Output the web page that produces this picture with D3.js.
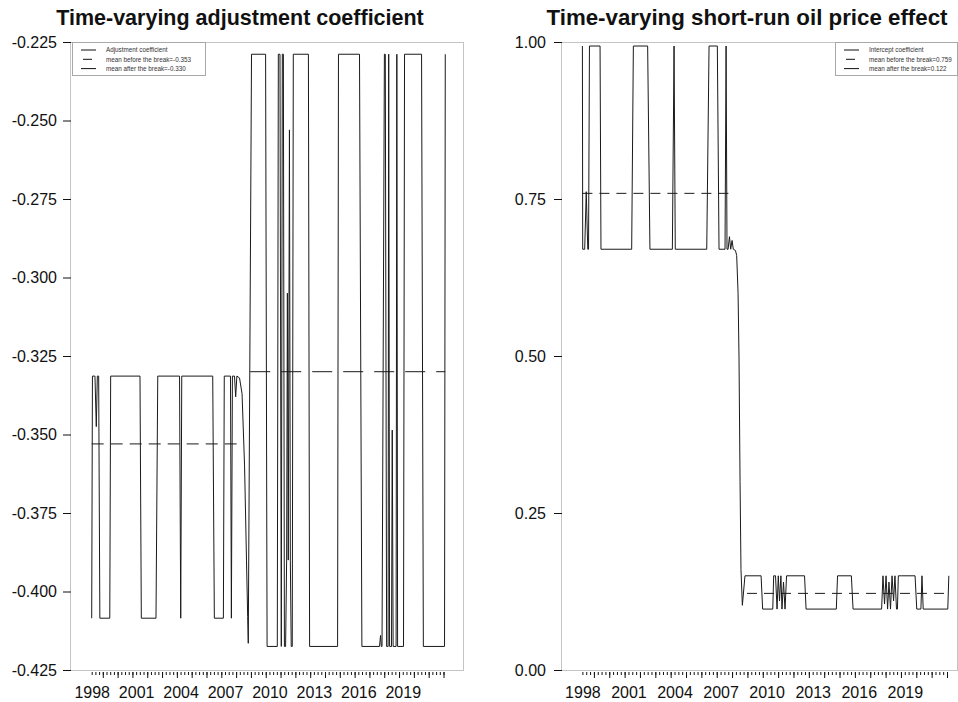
<!DOCTYPE html>
<html lang="en">
<head>
<meta charset="UTF-8">
<title>Time-varying coefficients</title>
<script src="https://cdnjs.cloudflare.com/ajax/libs/d3/7.8.5/d3.min.js"></script>
<style>
  body { margin: 0; background: #fff; }
  svg text { font-family: "Liberation Sans", Arial, Helvetica, sans-serif; fill: #111; }
</style>
</head>
<body>
<svg id="chart" width="958" height="702"></svg>
<script>

// x axis labels (every three years) and y tick values
var yearLabels = [1998, 2001, 2004, 2007, 2010, 2013, 2016, 2019];
var adjTicks = [-0.425, -0.400, -0.375, -0.350, -0.325, -0.300, -0.275, -0.250, -0.225];
var oilTicks = [0.00, 0.25, 0.50, 0.75, 1.00];

// adjustment coefficient (decimal year, value)
var adjTime = [1998.00, 1998.05, 1998.22, 1998.31, 1998.38, 1998.47, 1998.55, 1999.22, 1999.28,
  2001.26, 2001.35, 2002.34, 2002.46, 2003.93, 2004.01, 2004.08, 2006.17, 2006.28, 2006.89, 2006.95,
  2007.37, 2007.43, 2007.50, 2007.64, 2007.72, 2007.80, 2007.98, 2008.15, 2008.32, 2008.45, 2008.53, 2008.57,
  2008.79, 2009.74, 2009.84, 2010.53, 2010.60, 2010.71, 2010.80, 2010.87, 2010.94, 2011.01, 2011.09,
  2011.16, 2011.21, 2011.27, 2011.35, 2011.41, 2011.47, 2011.54, 2011.61, 2012.63, 2012.71, 2014.60,
  2014.66, 2016.08, 2016.24, 2017.43, 2017.50, 2017.55, 2017.60, 2017.76, 2017.82, 2017.91, 2018.01,
  2018.05, 2018.11, 2018.24, 2018.29, 2018.35, 2018.55, 2018.60, 2018.65, 2019.05, 2019.12, 2020.27,
  2020.39, 2021.82, 2021.87];
var adjValue = [-0.4085, -0.3314, -0.3314, -0.3475, -0.3314, -0.3314, -0.4085, -0.4085, -0.3314,
  -0.3314, -0.4085, -0.4085, -0.3314, -0.3314, -0.4085, -0.3314, -0.3314, -0.4085, -0.4085, -0.3314,
  -0.3314, -0.4085, -0.3314, -0.3314, -0.3380, -0.3314, -0.3320, -0.3370, -0.3600, -0.3900, -0.4080, -0.4165,
  -0.2289, -0.2289, -0.4175, -0.4175, -0.2289, -0.2289, -0.4175, -0.2289, -0.2289, -0.4175, -0.4175,
  -0.3900, -0.3050, -0.3900, -0.2530, -0.3900, -0.4175, -0.4175, -0.2289, -0.2289, -0.4175, -0.4175,
  -0.2289, -0.2289, -0.4175, -0.4175, -0.4140, -0.4175, -0.4175, -0.2289, -0.2289, -0.4175, -0.4175,
  -0.2289, -0.4175, -0.4175, -0.3486, -0.4175, -0.4175, -0.2289, -0.4175, -0.4175, -0.2289, -0.2289,
  -0.4175, -0.4175, -0.2289];
var adjMeans = [-0.353, -0.330];
var adjMeanSpans = [[1998.00, 2008.03], [2008.70, 2021.87]];

// short-run oil price effect (intercept coefficient)
var oilTime = [1998.00, 1998.02, 1998.15, 1998.25, 1998.35, 1998.40, 1998.46, 1999.15, 1999.21,
  2001.21, 2001.32, 2002.25, 2002.40, 2003.86, 2003.97, 2004.05, 2006.10, 2006.25, 2006.79, 2006.90,
  2007.29, 2007.36, 2007.42, 2007.49, 2007.58, 2007.66, 2007.75, 2007.83, 2007.97, 2008.05, 2008.14,
  2008.20, 2008.27, 2008.33, 2008.42,
  2008.59, 2009.64, 2009.74, 2010.40, 2010.46, 2010.58, 2010.68, 2010.76, 2010.84, 2010.93, 2011.00,
  2011.10, 2011.20, 2011.30, 2012.47, 2012.57, 2014.54, 2014.62, 2015.52, 2015.63, 2017.49, 2017.58,
  2017.68, 2017.78, 2017.88, 2017.97, 2018.07, 2018.17, 2018.27, 2018.36, 2018.46, 2018.52, 2018.58,
  2018.80, 2019.67, 2019.78, 2020.05, 2020.12, 2020.20, 2021.80, 2021.87];
var oilValue = [0.9936, 0.670, 0.670, 0.7616, 0.670, 0.670, 0.9936, 0.9936, 0.670,
  0.670, 0.9936, 0.9936, 0.670, 0.670, 0.9936, 0.670, 0.670, 0.9936, 0.9936, 0.670,
  0.670, 0.9936, 0.670, 0.670, 0.690, 0.670, 0.684, 0.670, 0.668, 0.660, 0.600,
  0.500, 0.300, 0.160, 0.103,
  0.150, 0.150, 0.097, 0.097, 0.150, 0.150, 0.097, 0.150, 0.110, 0.150, 0.097,
  0.140, 0.097, 0.150, 0.150, 0.097, 0.097, 0.150, 0.150, 0.097, 0.097, 0.150,
  0.105, 0.150, 0.097, 0.140, 0.097, 0.150, 0.110, 0.150, 0.097, 0.097, 0.150,
  0.150, 0.150, 0.097, 0.097, 0.150, 0.097, 0.097, 0.150];
var oilMeans = [0.759, 0.122];
var oilMeanSpans = [[1998.00, 2007.70], [2008.72, 2021.87]];

var svg = d3.select("#chart");

function drawPanel(p) {
  var g = svg.append("g");

  var x = d3.scaleLinear().domain([1998, 2021.75]).range([p.x0, p.x1]);
  var y = d3.scaleLinear().domain(p.yDomain).range([p.bottom, p.top]);

  // plot frame
  g.append("rect")
    .attr("x", p.boxLeft + 0.5).attr("y", p.top + 0.5)
    .attr("width", p.boxRight - p.boxLeft).attr("height", p.bottom - p.top)
    .style("fill", "none").style("stroke", "#c4c4c4").style("stroke-width", 1);

  // y axis (plain hyphen for the minus sign, as in the original)
  var yAxis = g.append("g")
    .attr("transform", "translate(" + (p.boxLeft + 1) + ",0)")
    .call(d3.axisLeft(y).tickValues(p.ticks)
      .tickFormat(function (d) { return d.toFixed(p.digits); })
      .tickSize(8).tickPadding(p.pad));
  yAxis.select(".domain").remove();
  yAxis.selectAll("text").style("font-size", "16px");

  // x axis: quarterly ticks, longer once a year, labels every three years
  var quarters = d3.range(1998, 2021.8, 0.25);
  var xMinor = g.append("g")
    .attr("transform", "translate(0," + (p.bottom + 2) + ")")
    .call(d3.axisBottom(x).tickValues(quarters).tickSize(3).tickFormat(""));
  xMinor.select(".domain").remove();
  var xMajor = g.append("g")
    .attr("transform", "translate(0," + (p.bottom + 2) + ")")
    .call(d3.axisBottom(x).tickValues(quarters.filter(function (d, i) { return i % 4 == 3; }))
      .tickSize(6).tickFormat(""));
  xMajor.select(".domain").remove();
  var xLab = g.append("g")
    .attr("transform", "translate(0," + (p.bottom + 14) + ")")
    .call(d3.axisBottom(x).tickValues(yearLabels).tickSize(0).tickFormat(d3.format("d")));
  xLab.select(".domain").remove();
  xLab.selectAll("text").style("font-size", "16px");
  g.selectAll(".tick line").style("stroke", "#111");

  // series
  var line = d3.line().x(function (d) { return x(d[0]); }).y(function (d) { return y(d[1]); });
  g.append("path")
    .datum(d3.zip(p.time, p.value))
    .attr("d", line)
    .style("fill", "none").style("stroke", "#1a1a1a").style("stroke-width", 1)
    .style("stroke-linejoin", "round");

  // means before/after the break
  p.means.forEach(function (m, i) {
    var s = p.spans[i];
    g.append("path")
      .datum([[s[0], m], [s[1], m]])
      .attr("d", line)
      .style("fill", "none").style("stroke", "#1a1a1a").style("stroke-width", 1)
      .style("stroke-dasharray", p.dash[i]);
  });

  // title
  g.append("text")
    .attr("x", p.titleX).attr("y", 25)
    .attr("text-anchor", "middle")
    .style("font-size", p.titleSize).style("font-weight", "bold")
    .text(p.title);

  // legend
  var lg = g.append("g").attr("transform", "translate(" + p.legX + ",42)");
  lg.append("rect")
    .attr("x", 0.5).attr("y", 0.5).attr("width", p.legW).attr("height", 33)
    .style("fill", "#fff").style("stroke", "#a8a8a8").style("stroke-width", 1);
  p.legend.forEach(function (t, i) {
    var cy = 8 + i * 9.3;
    lg.append("line")
      .attr("x1", 9).attr("x2", 24).attr("y1", cy).attr("y2", cy)
      .style("stroke", "#111").style("stroke-width", 1)
      .style("stroke-dasharray", i == 1 ? "0,2,9,20" : null);
    lg.append("text")
      .attr("x", 34).attr("y", cy + 2.2)
      .style("font-size", "6.3px").style("fill", "#333")
      .text(t);
  });
}

drawPanel({
  title: "Time-varying adjustment coefficient", titleX: 240, titleSize: "21.5px",
  boxLeft: 70, boxRight: 463, top: 42, bottom: 670,
  x0: 91.7, x1: 443.5, yDomain: [-0.425, -0.225],
  ticks: adjTicks, digits: 3, pad: 6,
  time: adjTime, value: adjValue,
  means: adjMeans, spans: adjMeanSpans, dash: ["12,7", "20,11"],
  legX: 72, legW: 133,
  legend: ["Adjustment coefficient", "mean before the break=-0.353", "mean after the break=-0.330"]
});

drawPanel({
  title: "Time-varying short-run oil price effect", titleX: 747, titleSize: "22.3px",
  boxLeft: 561, boxRight: 957, top: 42, bottom: 670,
  x0: 582.4, x1: 947, yDomain: [0, 1],
  ticks: oilTicks, digits: 2, pad: 8,
  time: oilTime, value: oilValue,
  means: oilMeans, spans: oilMeanSpans, dash: ["10,7", "10,7"],
  legX: 835, legW: 122,
  legend: ["Intercept coefficient", "mean before the break=0.759", "mean after the break=0.122"]
});

</script>
</body>
</html>
